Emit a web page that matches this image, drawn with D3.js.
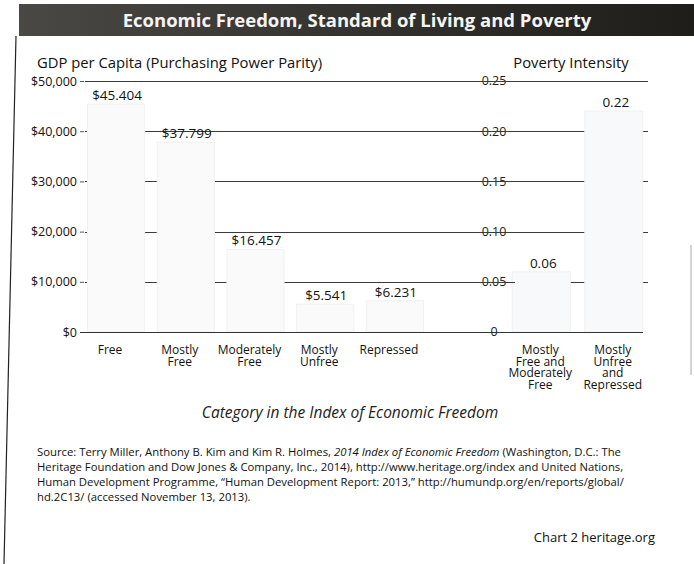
<!DOCTYPE html>
<html>
<head>
<meta charset="utf-8">
<script src="https://cdn.jsdelivr.net/npm/d3@7"></script>
<style>
  body { margin: 0; background: #fff; }
  svg { display: block; font-family: "Open Sans", sans-serif; }
</style>
</head>
<body>
<svg id="chart" width="694" height="564"></svg>
<script>
// data
const gdpCategories = [["Free"], ["Mostly", "Free"], ["Moderately", "Free"], ["Mostly", "Unfree"], ["Repressed"]];
const gdpValues = [45404, 37799, 16457, 5541, 6231];
const gdpTicks = [0, 10000, 20000, 30000, 40000, 50000];

const povCategories = [["Mostly", "Free and", "Moderately", "Free"], ["Mostly", "Unfree", "and", "Repressed"]];
const povValues = [0.06, 0.22];
const povTicks = [0, 0.05, 0.10, 0.15, 0.20, 0.25];

const sourceLines = [
  [["Source: Terry Miller, Anthony B. Kim and Kim R. Holmes, ", false], ["2014 Index of Economic Freedom", true], [" (Washington, D.C.: The", false]],
  [["Heritage Foundation and Dow Jones & Company, Inc., 2014), http://www.heritage.org/index and United Nations,", false]],
  [["Human Development Programme, \u201cHuman Development  Report: 2013,\u201d http://humundp.org/en/reports/global/", false]],
  [["hd.2C13/ (accessed November 13, 2013).", false]]
];

const svg = d3.select("#chart");

// title bar
const defs = svg.append("defs");
const grad = defs.append("linearGradient").attr("id", "bar-bg");
grad.append("stop").attr("offset", "0%").attr("stop-color", "#4a4844");
grad.append("stop").attr("offset", "100%").attr("stop-color", "#1e1d1a");
svg.append("rect").attr("x", 19).attr("y", 4).attr("width", 675).attr("height", 32).attr("fill", "url(#bar-bg)");
svg.append("text").attr("x", 357).attr("y", 27).attr("text-anchor", "middle")
  .attr("fill", "#f4f4f4").attr("font-weight", "bold").attr("font-size", 18.5)
  .text("Economic Freedom, Standard of Living and Poverty");

// page border (scan is slightly skewed)
svg.append("line").attr("x1", 16).attr("y1", 36).attr("x2", 4).attr("y2", 564)
  .attr("stroke", "#222").attr("stroke-width", 1.2);
svg.append("line").attr("x1", 691).attr("y1", 245).attr("x2", 691).attr("y2", 375)
  .attr("stroke", "#aaa").attr("stroke-width", 1);

// scales
const y = d3.scaleLinear().domain([0, 50000]).range([332, 81]);
const y2 = d3.scaleLinear().domain([0, 0.25]).range([332, 81]);
const x = d3.scaleBand().domain(d3.range(gdpValues.length)).range([84, 427]).paddingInner(0.18).paddingOuter(0.05);
const x2 = d3.scaleBand().domain(d3.range(povValues.length)).range([505, 650]).paddingInner(0.2).paddingOuter(0.1);

// gridlines (behind bars)
svg.append("g").selectAll("line").data(gdpTicks.slice(1)).join("line")
  .attr("x1", 85).attr("x2", 648)
  .attr("y1", d => Math.round(y(d)) + 0.5).attr("y2", d => Math.round(y(d)) + 0.5)
  .attr("stroke", "#3a3a3a").attr("stroke-width", 1);

// left axis
const leftAxis = svg.append("g").attr("transform", "translate(84,0)")
  .call(d3.axisLeft(y).tickValues(gdpTicks).tickSize(4).tickPadding(3)
    .tickFormat(d => "$" + d3.format(",")(d)));
leftAxis.select(".domain").remove();
leftAxis.selectAll("text").attr("font-size", 12.5).attr("fill", "#111").attr("font-family", "Open Sans");
leftAxis.selectAll("line").attr("stroke", "#555");

// bars, almost white in the reference
svg.append("g").selectAll("rect").data(gdpValues).join("rect")
  .attr("x", (d, i) => x(i)).attr("width", x.bandwidth())
  .attr("y", d => y(d)).attr("height", d => y(0) - y(d))
  .attr("fill", "#fafafa").attr("stroke", "#f1f1f1");
svg.append("g").selectAll("rect").data(povValues).join("rect")
  .attr("x", (d, i) => x2(i)).attr("width", x2.bandwidth())
  .attr("y", d => y2(d)).attr("height", d => y2(0) - y2(d))
  .attr("fill", "#f8f9fa").attr("stroke", "#f0f0f0");

// baseline
svg.append("line").attr("x1", 80).attr("x2", 643).attr("y1", 332.5).attr("y2", 332.5)
  .attr("stroke", "#333").attr("stroke-width", 1.2);

// right axis labels, struck through by gridlines
svg.append("g").selectAll("text").data(povTicks).join("text")
  .attr("x", 494).attr("y", d => y2(d)).attr("dy", "0.35em")
  .attr("text-anchor", "middle").attr("font-size", 12.5).attr("fill", "#222")
  .text(d => d === 0 ? "0" : d3.format(".2f")(d));
svg.append("g").selectAll("line").data(povTicks.slice(1)).join("line")
  .attr("x1", 470).attr("x2", 515)
  .attr("y1", d => Math.round(y2(d)) + 0.5).attr("y2", d => Math.round(y2(d)) + 0.5)
  .attr("stroke", "#3a3a3a");

// value labels
svg.append("g").selectAll("text").data(gdpValues).join("text")
  .attr("x", (d, i) => x(i) + x.bandwidth() / 2 + 1).attr("y", d => y(d) - 4)
  .attr("text-anchor", "middle").attr("font-size", 13.5).attr("fill", "#111")
  .text(d => "$" + d3.format(",")(d).replace(",", "."));
svg.append("g").selectAll("text").data(povValues).join("text")
  .attr("x", (d, i) => x2(i) + x2.bandwidth() / 2 + 2).attr("y", d => y2(d) - 4)
  .attr("text-anchor", "middle").attr("font-size", 13.5).attr("fill", "#111")
  .text(d => d3.format(".2f")(d));

// category labels, tightly stacked like the reference
function catLabels(cats, scale, lh, shift) {
  const g = svg.append("g").selectAll("text").data(cats).join("text")
    .attr("text-anchor", "middle").attr("font-size", 12).attr("fill", "#111")
    .attr("x", (d, i) => scale(i) + scale.bandwidth() / 2 + shift).attr("y", 354);
  g.selectAll("tspan").data((d, i) => d.map(t => ({t, i}))).join("tspan")
    .attr("x", d => scale(d.i) + scale.bandwidth() / 2 + shift)
    .attr("dy", (d, j) => j === 0 ? 0 : lh)
    .text(d => d.t);
}
catLabels(gdpCategories, x, 11.5, -6);
catLabels(povCategories, x2, 11.7, -1);

// axis titles
svg.append("text").attr("x", 37).attr("y", 68).attr("font-size", 14.8).attr("fill", "#111")
  .text("GDP per Capita (Purchasing Power Parity)");
svg.append("text").attr("x", 571).attr("y", 68).attr("text-anchor", "middle").attr("font-size", 14.8).attr("fill", "#111")
  .text("Poverty Intensity");
svg.append("text").attr("x", 350).attr("y", 418).attr("text-anchor", "middle")
  .attr("font-size", 15.5).attr("font-style", "italic").attr("fill", "#222")
  .text("Category in the Index of Economic Freedom");

// source note
const src = svg.append("g");
sourceLines.forEach((parts, i) => {
  const t = src.append("text").attr("x", 37).attr("y", 456 + i * 15)
    .attr("font-size", 11.3).attr("fill", "#111");
  parts.forEach(p => {
    t.append("tspan").attr("font-style", p[1] ? "italic" : null).text(p[0]);
  });
});

svg.append("text").attr("x", 655).attr("y", 542).attr("text-anchor", "end")
  .attr("font-size", 13).attr("fill", "#111").text("Chart 2 heritage.org");
</script>
</body>
</html>
